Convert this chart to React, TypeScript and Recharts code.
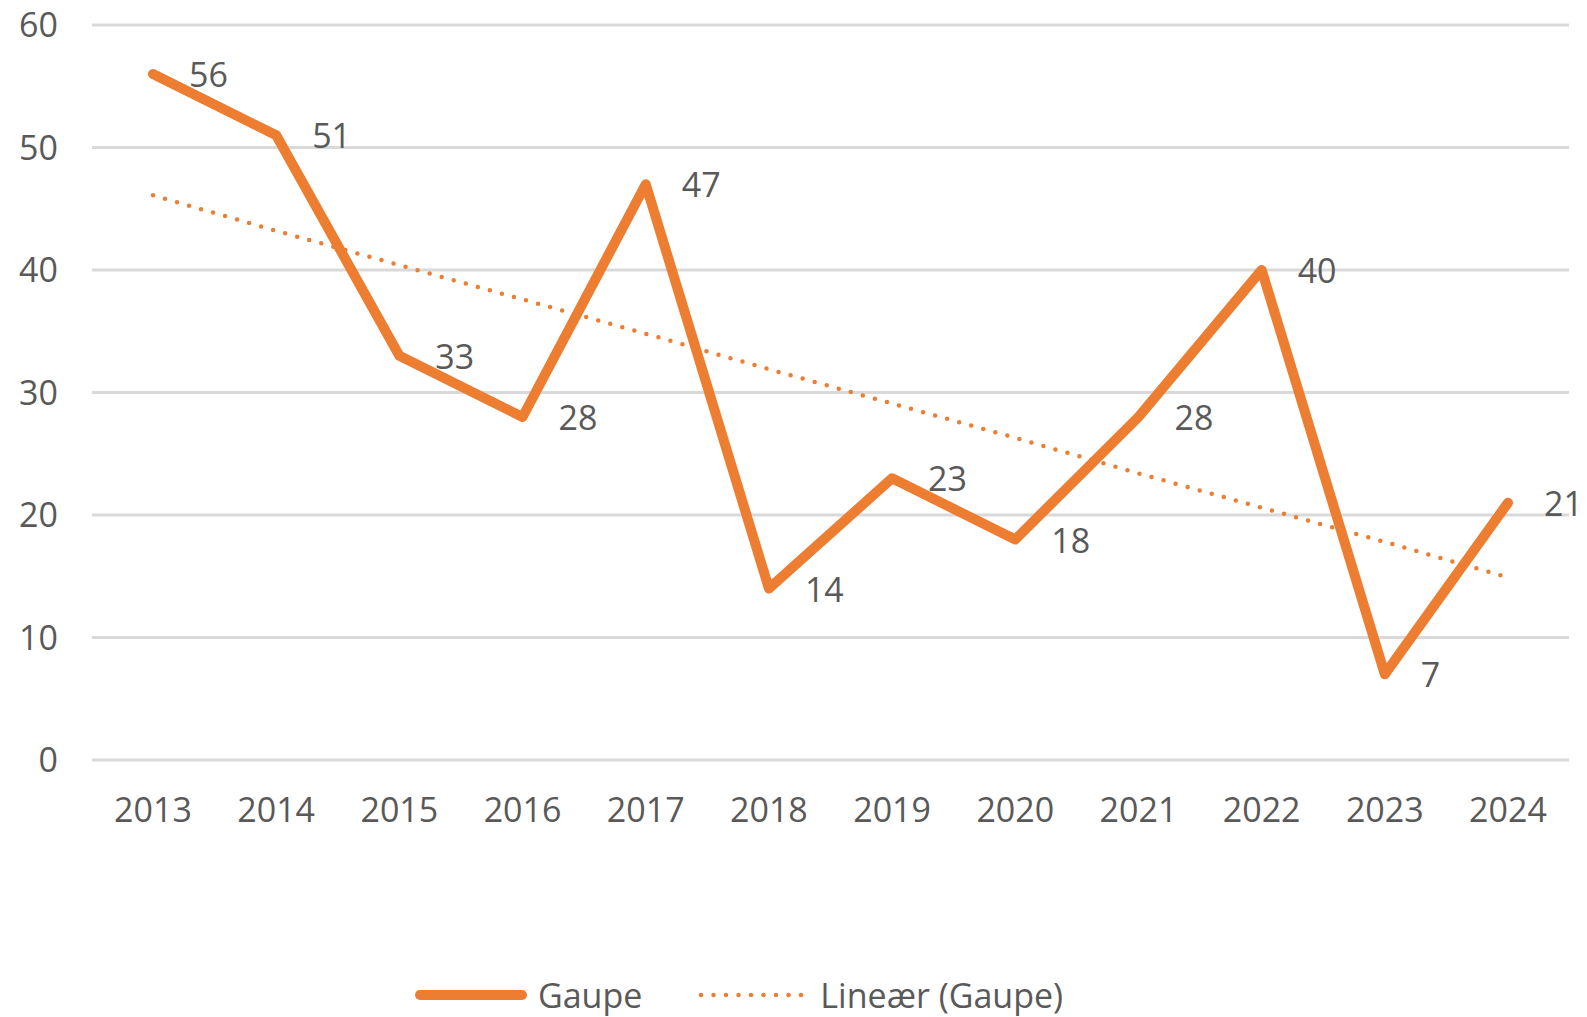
import { CartesianGrid, LabelList, Legend, Line, LineChart, XAxis, YAxis } from "recharts"

const years = ["2013", "2014", "2015", "2016", "2017", "2018", "2019", "2020", "2021", "2022", "2023", "2024"]
const gaupe = [56, 51, 33, 28, 47, 14, 23, 18, 28, 40, 7, 21]
// trend line values
const trend = [46.1, 43.2, 40.4, 37.6, 34.8, 31.9, 29.1, 26.3, 23.4, 20.6, 17.8, 14.9]
const yTicks = [0, 10, 20, 30, 40, 50, 60]

const ORANGE = "#ED7D31"
const TEXT = "#595959"
const FONT = "'Open Sans', sans-serif"

const data = years.map((year, i) => ({ year, gaupe: gaupe[i], trend: trend[i] }))

function ValueLabel(props: any) {
  const { x, y, value } = props
  return (
    <text x={x + 36} y={y} dominantBaseline="central" fill={TEXT} fontSize={34} fontFamily={FONT}>
      {value}
    </text>
  )
}

function ChartLegend() {
  return (
    <div style={{ height: 44, display: "flex", alignItems: "center", paddingLeft: 413, fontFamily: FONT, fontSize: 34, color: TEXT }}>
      <svg width={116} height={14} style={{ marginRight: 9 }}>
        <line x1={7} y1={7} x2={109} y2={7} stroke={ORANGE} strokeWidth={10} strokeLinecap="round" />
      </svg>
      <span style={{ marginRight: 56 }}>Gaupe</span>
      <svg width={108} height={8} style={{ marginRight: 14 }}>
        <line x1={3} y1={4} x2={105} y2={4} stroke={ORANGE} strokeWidth={4.5} strokeDasharray="0 12.5" strokeLinecap="round" />
      </svg>
      <span>Lineær (Gaupe)</span>
    </div>
  )
}

export default function App() {
  return (
    <div style={{ position: "absolute", left: 0, top: 0, width: 1587, height: 1017, background: "#fff" }}>
      <LineChart width={1587} height={1017} data={data} margin={{ top: 25, right: 18, left: 0, bottom: 0 }}>
        <CartesianGrid horizontal vertical={false} stroke="#D9D9D9" strokeWidth={3} />
        <XAxis
          dataKey="year"
          height={213}
          padding={{ left: 61, right: 61 }}
          axisLine={false}
          tickLine={false}
          tickSize={0}
          tickMargin={38}
          interval={0}
          tick={{ fill: TEXT, fontSize: 34, fontFamily: FONT }}
        />
        <YAxis
          domain={[0, 60]}
          ticks={yTicks}
          width={92}
          axisLine={false}
          tickLine={false}
          tickSize={0}
          tickMargin={34}
          tick={{ fill: TEXT, fontSize: 34, fontFamily: FONT }}
        />
        <Legend verticalAlign="bottom" content={() => <ChartLegend />} />
        <Line
          dataKey="trend"
          stroke={ORANGE}
          strokeWidth={4.5}
          strokeDasharray="0 12.5"
          strokeLinecap="round"
          dot={false}
          activeDot={false}
          isAnimationActive={false}
        />
        <Line
          dataKey="gaupe"
          stroke={ORANGE}
          strokeWidth={10}
          strokeLinejoin="round"
          strokeLinecap="round"
          dot={false}
          activeDot={false}
          isAnimationActive={false}
        >
          <LabelList dataKey="gaupe" content={ValueLabel} />
        </Line>
      </LineChart>
    </div>
  )
}
